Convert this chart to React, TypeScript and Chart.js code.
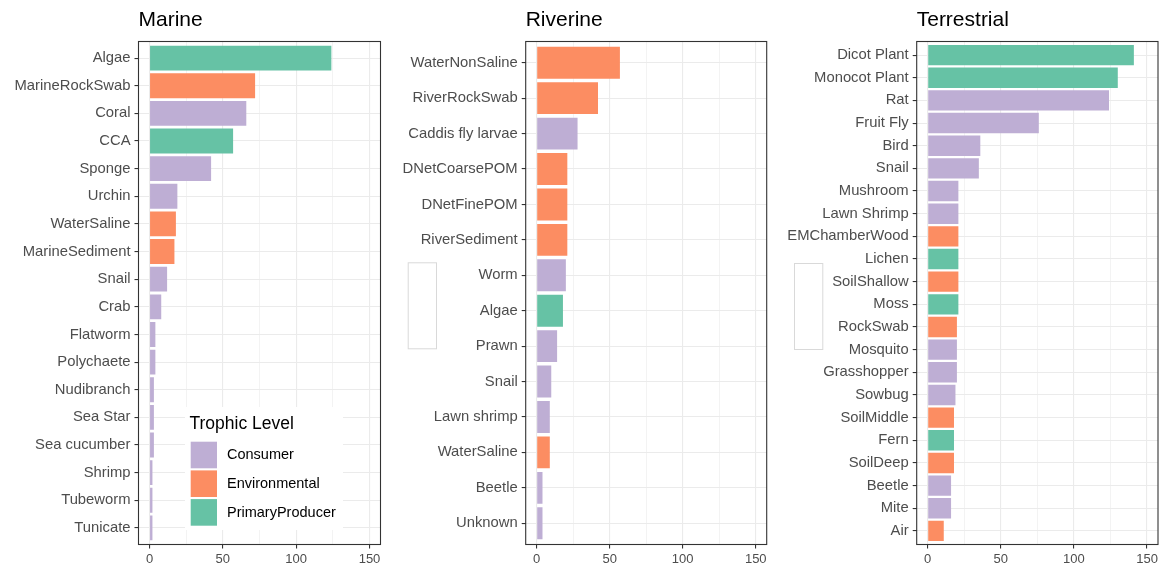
import React, { useEffect, useRef } from 'react';
import { Chart, registerables } from 'chart.js';

Chart.register(...registerables);

// ---- data ----
const marineCategories = ['Algae', 'MarineRockSwab', 'Coral', 'CCA', 'Sponge', 'Urchin', 'WaterSaline', 'MarineSediment', 'Snail', 'Crab', 'Flatworm', 'Polychaete', 'Nudibranch', 'Sea Star', 'Sea cucumber', 'Shrimp', 'Tubeworm', 'Tunicate'];
const marineCounts = [124, 72, 66, 57, 42, 19, 18, 17, 12, 8, 4, 4, 3, 3, 3, 2, 2, 2];
const marineLevels = ['PrimaryProducer', 'Environmental', 'Consumer', 'PrimaryProducer', 'Consumer', 'Consumer', 'Environmental', 'Environmental', 'Consumer', 'Consumer', 'Consumer', 'Consumer', 'Consumer', 'Consumer', 'Consumer', 'Consumer', 'Consumer', 'Consumer'];

const riverineCategories = ['WaterNonSaline', 'RiverRockSwab', 'Caddis fly larvae', 'DNetCoarsePOM', 'DNetFinePOM', 'RiverSediment', 'Worm', 'Algae', 'Prawn', 'Snail', 'Lawn shrimp', 'WaterSaline', 'Beetle', 'Unknown'];
const riverineCounts = [57, 42, 28, 21, 21, 21, 20, 18, 14, 10, 9, 9, 4, 4];
const riverineLevels = ['Environmental', 'Environmental', 'Consumer', 'Environmental', 'Environmental', 'Environmental', 'Consumer', 'PrimaryProducer', 'Consumer', 'Consumer', 'Consumer', 'Environmental', 'Consumer', 'Consumer'];

const terrestrialCategories = ['Dicot Plant', 'Monocot Plant', 'Rat', 'Fruit Fly', 'Bird', 'Snail', 'Mushroom', 'Lawn Shrimp', 'EMChamberWood', 'Lichen', 'SoilShallow', 'Moss', 'RockSwab', 'Mosquito', 'Grasshopper', 'Sowbug', 'SoilMiddle', 'Fern', 'SoilDeep', 'Beetle', 'Mite', 'Air'];
const terrestrialCounts = [141, 130, 124, 76, 36, 35, 21, 21, 21, 21, 21, 21, 20, 20, 20, 19, 18, 18, 18, 16, 16, 11];
const terrestrialLevels = ['PrimaryProducer', 'PrimaryProducer', 'Consumer', 'Consumer', 'Consumer', 'Consumer', 'Consumer', 'Consumer', 'Environmental', 'PrimaryProducer', 'Environmental', 'PrimaryProducer', 'Environmental', 'Consumer', 'Consumer', 'Consumer', 'Environmental', 'PrimaryProducer', 'Environmental', 'Consumer', 'Consumer', 'Environmental'];

const trophicLevels = ['Consumer', 'Environmental', 'PrimaryProducer'];
const xTickValues = [0, 25, 50, 75, 100, 125, 150];

const levelColors: Record<string, string> = {
  Consumer: '#BEAED4',
  Environmental: '#FC8D62',
  PrimaryProducer: '#66C2A5',
};

const FONT = '"Liberation Sans", Arial, Helvetica, sans-serif';
Chart.defaults.font.family = FONT;

// discrete-axis padding, in categories, on each end
const CATEGORY_EXPAND = 0.6;

type PanelProps = {
  title: string;
  categories: string[];
  counts: number[];
  levels: string[];
  left: number;
  width: number;
  axisWidth: number;
  padRight: number;
  showLegend?: boolean;
  emptyBox?: { x: number; y: number; w: number; h: number };
};

function Panel({ title, categories, counts, levels, left, width, axisWidth, padRight, showLegend, emptyBox }: PanelProps) {
  const ref = useRef<HTMLCanvasElement | null>(null);

  useEffect(() => {
    if (!ref.current) return;

    const decorations = {
      id: 'panelDecorations',
      afterDraw(chart: any) {
        const { ctx, chartArea } = chart;
        ctx.save();
        // panel frame
        ctx.strokeStyle = '#333333';
        ctx.lineWidth = 1.1;
        ctx.strokeRect(chartArea.left, chartArea.top, chartArea.right - chartArea.left, chartArea.bottom - chartArea.top);

        // panel title
        ctx.fillStyle = '#000000';
        ctx.font = `21px ${FONT}`;
        ctx.textAlign = 'left';
        ctx.textBaseline = 'alphabetic';
        ctx.fillText(title, chartArea.left, 26);

        if (emptyBox) {
          ctx.fillStyle = '#ffffff';
          ctx.fillRect(emptyBox.x, emptyBox.y, emptyBox.w, emptyBox.h);
          ctx.strokeStyle = '#D9D9D9';
          ctx.lineWidth = 1;
          ctx.strokeRect(emptyBox.x + 0.5, emptyBox.y + 0.5, emptyBox.w, emptyBox.h);
        }

        if (showLegend) {
          const lx = 185;
          const ly = 407;
          ctx.fillStyle = '#ffffff';
          ctx.fillRect(lx, ly, 158, 123);
          ctx.fillStyle = '#000000';
          ctx.font = `17.5px ${FONT}`;
          ctx.textBaseline = 'alphabetic';
          ctx.fillText('Trophic Level', 189.5, 429);
          trophicLevels.forEach((lvl, i) => {
            const ky = 441.7 + i * 28.7;
            ctx.fillStyle = levelColors[lvl];
            ctx.fillRect(190.7, ky, 26.3, 26.6);
            ctx.fillStyle = '#000000';
            ctx.font = `14.5px ${FONT}`;
            ctx.textBaseline = 'middle';
            ctx.fillText(lvl, 227, ky + 13.5);
          });
        }
        ctx.restore();
      },
    };

    const chart = new Chart(ref.current, {
      type: 'bar',
      data: {
        labels: categories,
        datasets: [
          {
            data: counts,
            backgroundColor: levels.map((l) => levelColors[l]),
            borderWidth: 0,
            barPercentage: 0.9,
            categoryPercentage: 1.0,
          },
        ],
      },
      options: {
        indexAxis: 'y',
        animation: false,
        responsive: false,
        maintainAspectRatio: false,
        layout: { padding: { top: 41.5, right: padRight, bottom: 0, left: 0 } },
        plugins: {
          legend: { display: false },
          tooltip: { enabled: false },
          title: { display: false },
        },
        scales: {
          x: {
            type: 'linear',
            min: -7.5,
            max: 157.5,
            afterBuildTicks: (scale: any) => {
              scale.ticks = xTickValues.map((v) => ({ value: v }));
            },
            afterFit: (scale: any) => {
              scale.height = 24.5;
            },
            border: { display: false },
            grid: {
              color: '#EBEBEB',
              lineWidth: (c: any) => (c.tick && c.tick.value % 50 === 0 ? 1.1 : 0.6),
              tickColor: (c: any) => (c.tick && c.tick.value % 50 === 0 ? '#333333' : 'rgba(0,0,0,0)'),
              tickLength: 4,
              tickWidth: 1.1,
            },
            ticks: {
              autoSkip: false,
              maxRotation: 0,
              padding: 3,
              color: '#4D4D4D',
              font: { size: 13 },
              callback: (v: any) => (Number(v) % 50 === 0 ? String(v) : ''),
            },
          },
          y: {
            type: 'category',
            offset: false,
            afterBuildTicks: (scale: any) => {
              // widen the category range so the end bars sit 0.6 of a step from the frame
              scale._startValue = scale.min - CATEGORY_EXPAND;
              scale._valueRange = Math.max(scale.max - scale.min, 0) + 2 * CATEGORY_EXPAND;
            },
            afterFit: (scale: any) => {
              scale.width = axisWidth;
            },
            border: { display: false },
            grid: {
              offset: false,
              color: '#EBEBEB',
              lineWidth: 1.1,
              tickColor: '#333333',
              tickLength: 4,
              tickWidth: 1.1,
            },
            ticks: {
              autoSkip: false,
              padding: 4,
              color: '#4D4D4D',
              font: { size: 14.8 },
            },
          },
        },
      },
      plugins: [decorations],
    });

    return () => chart.destroy();
  }, []);

  return (
    <canvas
      ref={ref}
      width={width}
      height={569}
      style={{ position: 'absolute', left, top: 0, width, height: 569 }}
    />
  );
}

export default function App() {
  return (
    <div style={{ position: 'absolute', left: 0, top: 0, width: 1164, height: 569, background: '#ffffff', overflow: 'hidden' }}>
      <Panel
        title="Marine"
        categories={marineCategories}
        counts={marineCounts}
        levels={marineLevels}
        left={0}
        width={390}
        axisWidth={138.5}
        padRight={9.5}
        showLegend
      />
      <Panel
        title="Riverine"
        categories={riverineCategories}
        counts={riverineCounts}
        levels={riverineLevels}
        left={390}
        width={390}
        axisWidth={135.7}
        padRight={13.3}
        emptyBox={{ x: 17.7, y: 262.3, w: 28.3, h: 86 }}
      />
      <Panel
        title="Terrestrial"
        categories={terrestrialCategories}
        counts={terrestrialCounts}
        levels={terrestrialLevels}
        left={780}
        width={384}
        axisWidth={136.7}
        padRight={6}
        emptyBox={{ x: 14, y: 263, w: 28.3, h: 86 }}
      />
    </div>
  );
}
